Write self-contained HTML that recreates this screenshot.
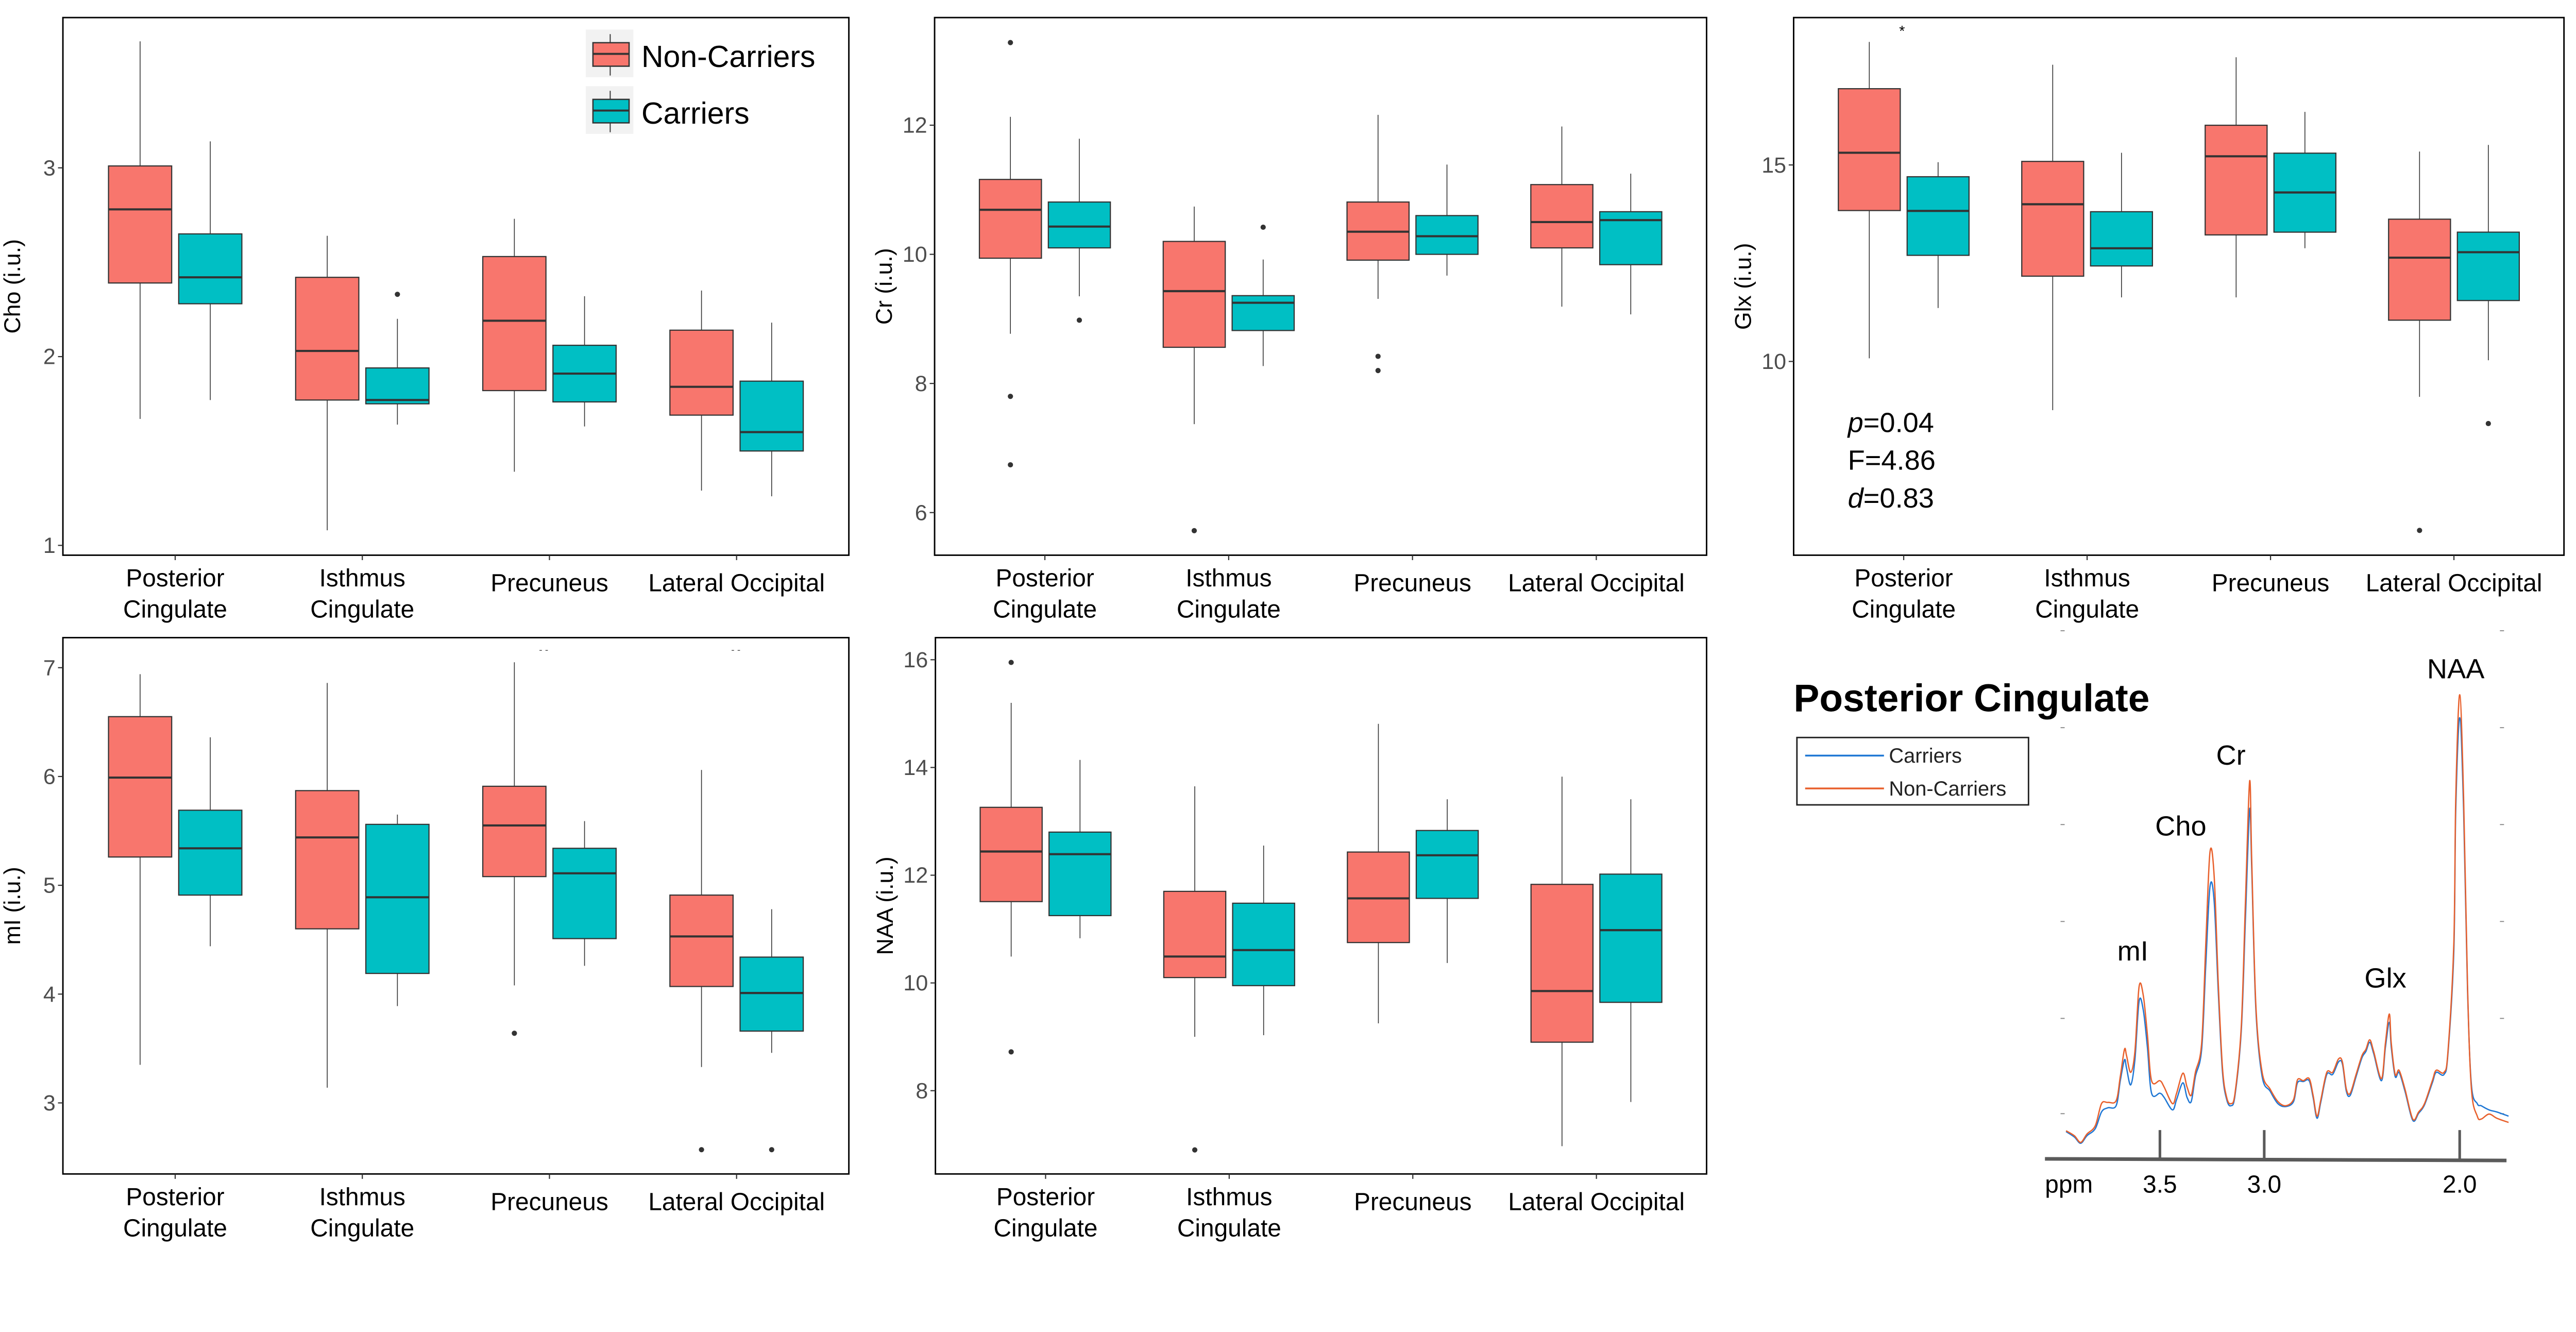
<!DOCTYPE html>
<html><head><meta charset="utf-8">
<style>
html,body{margin:0;padding:0;background:#fff;overflow:hidden;}
svg{display:block;position:absolute;left:0;top:0;width:4999px;height:2445px;}
text{font-family:"Liberation Sans",Arial,sans-serif;}
</style></head>
<body>
<svg id="root" xmlns="http://www.w3.org/2000/svg" width="4999" height="2445" viewBox="0 0 1568 767" preserveAspectRatio="none">
<rect x="0" y="0" width="1568" height="767" fill="#fff"/>
<g id="fig"></g>
</svg>
<script>
// ---------- shared categories ----------
const categories = ["Posterior|Cingulate","Isthmus|Cingulate","Precuneus","Lateral Occipital"];
const seriesNames = ["Non-Carriers","Carriers"];

// ---------- Cho ----------
const choTicks = [1,2,3];
const choNc = [[1.67,2.39,2.78,3.01,3.67],[1.08,1.77,2.03,2.42,2.64],[1.39,1.82,2.19,2.53,2.73],[1.29,1.69,1.84,2.14,2.35]];
const choC  = [[1.77,2.28,2.42,2.65,3.14],[1.64,1.75,1.77,1.94,2.20],[1.63,1.76,1.91,2.06,2.32],[1.26,1.50,1.60,1.87,2.18]];
const choNcOut = [[],[],[],[]];
const choCOut  = [[],[2.33],[],[]];

// ---------- Cr ----------
const crTicks = [6,8,10,12];
const crNc = [[8.77,9.94,10.69,11.16,12.13],[7.37,8.56,9.43,10.20,10.74],[9.31,9.91,10.35,10.81,12.16],[9.19,10.10,10.50,11.08,11.98]];
const crC  = [[9.35,10.10,10.43,10.81,11.79],[8.27,8.82,9.25,9.36,9.92],[9.67,10.00,10.28,10.60,11.39],[9.07,9.84,10.53,10.66,11.25]];
const crNcOut = [[13.28,7.80,6.74],[5.72],[8.42,8.20],[]];
const crCOut  = [[8.98],[10.42],[],[]];

// ---------- Glx ----------
const glxTicks = [10,15];
const glxNc = [[10.08,13.84,15.31,16.94,18.13],[8.76,12.17,14.00,15.09,17.55],[11.63,13.22,15.22,16.01,17.74],[9.10,11.05,12.64,13.62,15.34]];
const glxC  = [[11.36,12.70,13.83,14.70,15.07],[11.63,12.43,12.88,13.81,15.31],[12.88,13.29,14.30,15.30,16.35],[10.03,11.55,12.78,13.29,15.51]];
const glxNcOut = [[],[],[],[5.70]];
const glxCOut  = [[],[],[],[8.42]];

// ---------- mI ----------
const miTicks = [3,4,5,6,7];
const miNc = [[3.35,5.26,5.99,6.55,6.94],[3.14,4.60,5.44,5.87,6.86],[4.08,5.08,5.55,5.91,7.05],[3.33,4.07,4.53,4.91,6.06]];
const miC  = [[4.44,4.91,5.34,5.69,6.36],[3.89,4.19,4.89,5.56,5.65],[4.26,4.51,5.11,5.34,5.59],[3.46,3.66,4.01,4.34,4.78]];
const miNcOut = [[],[],[3.64],[2.57]];
const miCOut  = [[],[],[],[2.57]];

// ---------- NAA ----------
const naaTicks = [8,10,12,14,16];
const naaNc = [[10.49,11.51,12.44,13.26,15.20],[9.00,10.10,10.49,11.70,13.65],[9.25,10.75,11.57,12.43,14.81],[6.97,8.90,9.85,11.83,13.83]];
const naaC  = [[10.83,11.25,12.39,12.80,14.14],[9.03,9.95,10.61,11.48,12.55],[10.37,11.57,12.37,12.83,13.41],[7.79,9.64,10.98,12.02,13.41]];
const naaNcOut = [[15.95,8.72],[6.90],[],[]];
const naaCOut  = [[],[],[],[]];

// ---------- spectrum ----------
const specPpm = [3.95,3.91,3.88,3.85,3.81,3.78,3.75,3.71,3.69,3.67,3.66,3.64,3.62,3.60,3.58,3.56,3.54,3.50,3.48,3.44,3.42,3.39,3.37,3.35,3.33,3.30,3.28,3.26,3.24,3.22,3.20,3.18,3.16,3.14,3.11,3.09,3.07,3.06,3.04,3.01,
2.97,2.93,2.89,2.85,2.83,2.80,2.77,2.75,2.73,2.71,2.68,2.65,2.62,2.60,2.58,2.56,2.53,2.50,2.48,2.46,2.44,2.40,2.38,2.36,2.35,2.33,2.31,2.28,2.24,2.21,2.18,2.14,2.12,2.08,2.06,2.03,2.02,2.00,1.98,1.96,1.94,1.91,1.89,1.85,1.81,1.75];
const specNonCarriers = [50,38,22,42,62,115,118,122,180,245,230,190,240,395,375,280,170,170,155,115,140,188,155,135,190,260,500,718,660,400,200,130,115,140,300,600,888,700,350,190,
150,120,110,125,172,170,175,135,85,125,190,190,222,215,150,140,185,230,245,268,240,175,260,330,260,185,195,150,78,95,115,170,195,190,240,500,850,1095,850,400,150,85,78,90,80,70];
const specCarriers = [48,35,20,38,55,95,105,110,170,220,200,160,220,360,340,250,140,140,130,100,125,165,130,120,180,245,450,635,600,380,190,125,110,135,290,560,820,680,340,180,
145,115,108,120,165,168,170,130,80,120,185,185,215,210,145,135,180,225,240,262,235,170,250,310,250,180,190,145,75,92,112,165,190,185,235,480,820,1040,820,390,160,115,110,100,95,85];
const specAxisLabels = ["3.5","3.0","2.0"];
const specAxisTicks = [3.5,3.0,2.0];
const peakNames = ["mI","Cho","Cr","Glx","NAA"];
const peakPpm = [3.63,3.40,3.16,2.38,2.02];
const peakHeights = [395,718,888,330,1095];

const NS = "http://www.w3.org/2000/svg";
const svg = document.getElementById('fig');
function mk(tag, attrs, parent, txt){
  const e = document.createElementNS(NS, tag);
  for (const k in attrs) e.setAttribute(k, attrs[k]);
  if (txt !== undefined) e.textContent = txt;
  (parent || svg).appendChild(e);
  return e;
}
const FILL = ["#F8766D","#00BFC4"];

function boxPanel(name, yTitle, L, R, T, B, vTop, vBot, ticks, nc, c, ncOut, cOut){
  const g = mk('g', {});
  
  
  const y = v => T + (vTop - v) / (vTop - vBot) * (B - T);
  const x = u => L + (u - 0.4) / 4.2 * (R - L);
  const uw = (R - L) / 4.2;
  const fr = mk('rect', {x:L, y:T, width:R-L, height:B-T, fill:'none', stroke:'#000', 'stroke-width':0.9}, g);
  
  
  ticks.forEach(t => {
    mk('line', {x1:L-3, x2:L, y1:y(t), y2:y(t), stroke:'#333', 'stroke-width':0.7}, g);
    const tl = mk('text', {x:L-4.5, y:y(t)+4.6, 'font-size':13.5, fill:'#4d4d4d', 'text-anchor':'end'}, g, String(t));
    
    
  });
  const cy = (T + B) / 2;
  const yt = mk('text', {x:0, y:0, 'font-size':14, fill:'#000', 'text-anchor':'middle', transform:`translate(${L-26},${cy}) rotate(-90)`}, g, yTitle);
  
  
  categories.forEach((cat, i) => {
    const cx = x(i + 1);
    mk('line', {x1:cx, x2:cx, y1:B, y2:B+3, stroke:'#333', 'stroke-width':0.7}, g);
    const parts = cat.split('|');
    parts.forEach((p, j) => {
      const tx = mk('text', {x:cx, y:B + (parts.length === 2 ? 19 + j*19 : 22), 'font-size':15, fill:'#000', 'text-anchor':'middle'}, g, p);
      
      
    });
    [nc, c].forEach((ser, s) => {
      const st = ser[i];
      const bx = cx + (s === 0 ? -0.1875 : 0.1875) * uw;
      const hw = 0.16875 * uw;
      const wl = mk('line', {x1:bx, x2:bx, y1:y(st[4]), y2:y(st[0]), stroke:'#333', 'stroke-width':0.5}, g);
      
      
      const rc = mk('rect', {x:bx-hw, y:y(st[3]), width:2*hw, height:y(st[1])-y(st[3]), fill:FILL[s], stroke:'#333', 'stroke-width':0.7}, g);
      
      
      const md = mk('line', {x1:bx-hw, x2:bx+hw, y1:y(st[2]), y2:y(st[2]), stroke:'#333', 'stroke-width':1.3}, g);
      
      
      const outs = (s === 0 ? ncOut : cOut)[i];
      outs.forEach(o => {
        const pt = mk('circle', {cx:bx, cy:y(o), r:1.6, fill:'#333'}, g);
        
        
      });
    });
  });
}

boxPanel('cho', 'Cho (i.u.)', 38.3, 516.8, 10.7, 338.0, 3.796, 0.948, choTicks, choNc, choC, choNcOut, choCOut);
boxPanel('cr', 'Cr (i.u.)', 569, 1039, 10.7, 338.0, 13.667, 5.34, crTicks, crNc, crC, crNcOut, crCOut);
boxPanel('glx', 'Glx (i.u.)', 1092, 1561, 10.7, 338.0, 18.75, 5.07, glxTicks, glxNc, glxC, glxNcOut, glxCOut);
boxPanel('mi', 'mI (i.u.)', 38.3, 516.8, 388.2, 714.7, 7.276, 2.347, miTicks, miNc, miC, miNcOut, miCOut);
boxPanel('naa', 'NAA (i.u.)', 569.5, 1039, 388.2, 714.7, 16.41, 6.454, naaTicks, naaNc, naaC, naaNcOut, naaCOut);

const ast = mk('text', {x:1158, y:22, 'font-size':9, fill:'#000', 'text-anchor':'middle'}, undefined, '*');


[[331,397.6],[448,397.6]].forEach(p => {
  const d = mk('text', {x:p[0], y:p[1], 'font-size':6, fill:'#555', 'text-anchor':'middle'}, undefined, '- -');
  
  
});

const statLines = [["p","=0.04"],["F=4.86",""],["d","=0.83"]];
statLines.forEach((sl, i) => {
  const t = mk('text', {x:1125, y:263 + i*23, 'font-size':17, fill:'#000'});
  
  
  if (i === 1) { t.textContent = sl[0]; }
  else {
    mk('tspan', {'font-style':'italic'}, t, sl[0]);
    mk('tspan', {}, t, sl[1]);
  }
});

const lg = mk('g', {});


seriesNames.forEach((nm, i) => {
  const oy = i * 34.5;
  const e = mk('g', {}, lg);
  
  
  mk('rect', {x:356.6, y:18+oy, width:29, height:29, fill:'#f2f2f2'}, e);
  mk('line', {x1:371.5, x2:371.5, y1:20.8+oy, y2:46+oy, stroke:'#333', 'stroke-width':0.6}, e);
  mk('rect', {x:361, y:26+oy, width:22, height:14.3, fill:FILL[i], stroke:'#333', 'stroke-width':0.8}, e);
  mk('line', {x1:361, x2:383, y1:32.8+oy, y2:32.8+oy, stroke:'#333', 'stroke-width':1.2}, e);
  mk('text', {x:390.5, y:40.8+oy, 'font-size':18.5, fill:'#000'}, e, nm);
});

// ---------- spectrum panel ----------
const sp = mk('g', {});


const px = p => p >= 3 ? 1315 + (3.5 - p) * 127 : 1378.5 + (3 - p) * 119;
const py = v => 701.1 - v * 0.254;
const st = mk('text', {x:1092, y:433, 'font-size':23.5, 'font-weight':'bold', fill:'#000'}, sp, 'Posterior Cingulate');


[384,443,502,561,620,678].forEach(yy => {
  mk('line', {x1:1254.5, x2:1257, y1:yy, y2:yy, stroke:'#888', 'stroke-width':0.6}, sp);
  mk('line', {x1:1522, x2:1524.5, y1:yy, y2:yy, stroke:'#888', 'stroke-width':0.6}, sp);
});
const sl = mk('g', {}, sp);


mk('rect', {x:1094, y:449, width:141, height:41, fill:'#fff', stroke:'#222', 'stroke-width':0.9}, sl);
[["Carriers","#1f77d4",460],["Non-Carriers","#e8602c",480]].forEach(l => {
  const e = mk('g', {}, sl);
  
  
  mk('line', {x1:1099, x2:1147, y1:l[2], y2:l[2], stroke:l[1], 'stroke-width':1.1}, e);
  mk('text', {x:1150, y:l[2]+4.3, 'font-size':12.5, fill:'#222'}, e, l[0]);
});
function curve(vals, color, nm){
  const pts = specPpm.map((p, i) => [px(p), py(vals[i])]);
  let d = 'M' + pts[0][0].toFixed(2) + ' ' + pts[0][1].toFixed(2);
  for (let i = 0; i < pts.length - 1; i++) {
    const p0 = pts[Math.max(0, i-1)], p1 = pts[i], p2 = pts[i+1], p3 = pts[Math.min(pts.length-1, i+2)];
    const c1x = p1[0] + (p2[0]-p0[0])/6, c1y = p1[1] + (p2[1]-p0[1])/6;
    const c2x = p2[0] - (p3[0]-p1[0])/6, c2y = p2[1] - (p3[1]-p1[1])/6;
    d += 'C' + c1x.toFixed(2) + ' ' + c1y.toFixed(2) + ' ' + c2x.toFixed(2) + ' ' + c2y.toFixed(2) + ' ' + p2[0].toFixed(2) + ' ' + p2[1].toFixed(2);
  }
  const pth = mk('path', {d, fill:'none', stroke:color, 'stroke-width':0.8, 'stroke-linejoin':'round'}, sp);
  
  
}
curve(specCarriers, '#1f77d4', 'carriers-spectrum-line');
curve(specNonCarriers, '#e8602c', 'non-carriers-spectrum-line');
const ax = mk('line', {x1:1245, x2:1526, y1:705.5, y2:706.5, stroke:'#5a5a5a', 'stroke-width':2.2}, sp);


specAxisTicks.forEach((t, i) => {
  mk('line', {x1:px(t), x2:px(t), y1:688, y2:706, stroke:'#5a5a5a', 'stroke-width':1.6}, sp);
  const tl = mk('text', {x:px(t), y:726, 'font-size':15, fill:'#000', 'text-anchor':'middle'}, sp, specAxisLabels[i]);
  
  
});
const ppmL = mk('text', {x:1245, y:726, 'font-size':15, fill:'#000'}, sp, 'ppm');


peakNames.forEach((n, i) => {
  const t = mk('text', {x:px(peakPpm[i]), y:py(peakHeights[i]) - (i === 0 || i === 3 ? 16 : 10), 'font-size':17, fill:'#000', 'text-anchor':'middle'}, sp, n);
  
  
});
</script>
</body></html>
